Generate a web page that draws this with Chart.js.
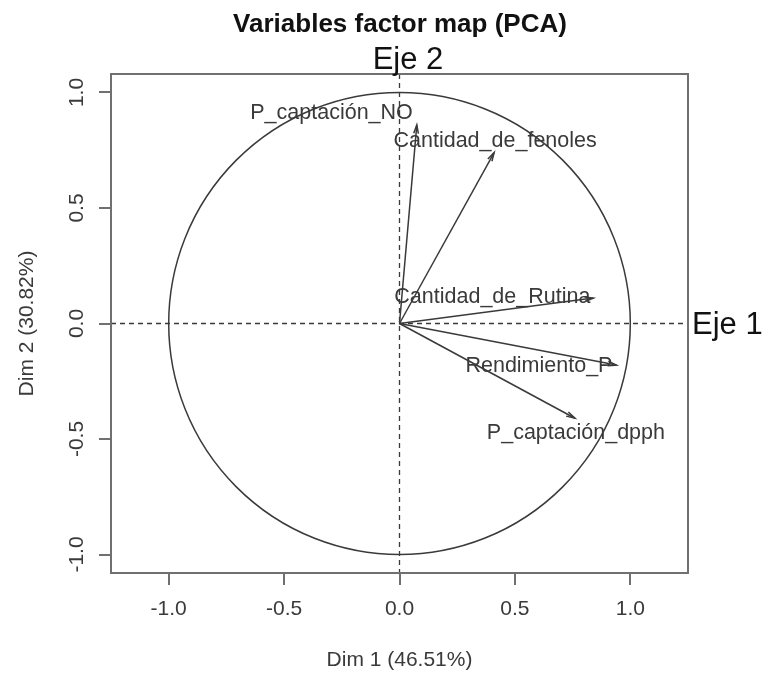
<!DOCTYPE html>
<html>
<head>
<meta charset="utf-8">
<script src="https://cdn.jsdelivr.net/npm/chart.js@4/dist/chart.umd.min.js"></script>
<style>
  html, body { margin: 0; padding: 0; background: #fff; }
  #wrap { width: 762px; height: 675px; }
</style>
</head>
<body>
<div id="wrap"><canvas id="pca" width="762" height="675"></canvas></div>
<script>
// variable coordinates on Dim 1 / Dim 2
const variables = ['P_captación_NO', 'Cantidad_de_fenoles', 'Cantidad_de_Rutina', 'Rendimiento_P', 'P_captación_dpph'];
const dim1 = [0.075, 0.41, 0.84, 0.94, 0.76];
const dim2 = [0.86, 0.74, 0.11, -0.18, -0.41];
const tickValues = [-1.0, -0.5, 0.0, 0.5, 1.0];

// where each label sits relative to its arrow tip (pixels)
const labelPlace = [
    { align: 'right', dx: -4, dy: -12 },
    { align: 'center', dx: 1, dy: -11 },
    { align: 'right', dx: -3, dy: -1 },
    { align: 'right', dx: -4, dy: 1 },
    { align: 'center', dx: 1, dy: 15 }
];

const FONT = '"Liberation Sans", Arial, sans-serif';
const INK = '#3a3a3a';
const FRAME = '#707070';

const datasets = variables.map((name, i) => ({
    label: name,
    data: [{ x: 0, y: 0 }, { x: dim1[i], y: dim2[i] }],
    showLine: true,
    borderColor: INK,
    borderWidth: 1.5,
    pointRadius: 0,
    fill: false
}));

const decor = {
    id: 'decor',
    beforeDatasetsDraw(chart) {
        const { ctx, chartArea: a, scales: { x, y } } = chart;
        const cx = x.getPixelForValue(0), cy = y.getPixelForValue(0);
        ctx.save();
        // correlation circle
        ctx.strokeStyle = INK;
        ctx.lineWidth = 1.5;
        ctx.beginPath();
        ctx.ellipse(cx, cy, x.getPixelForValue(1) - cx, cy - y.getPixelForValue(1), 0, 0, Math.PI * 2);
        ctx.stroke();
        // dashed axes
        ctx.setLineDash([5, 4]);
        ctx.lineWidth = 1.3;
        ctx.beginPath();
        ctx.moveTo(a.left, cy); ctx.lineTo(a.right, cy);
        ctx.moveTo(cx, a.top); ctx.lineTo(cx, a.bottom);
        ctx.stroke();
        ctx.restore();
    },
    afterDatasetsDraw(chart) {
        const { ctx, chartArea: a, scales: { x, y } } = chart;
        const cx = x.getPixelForValue(0), cy = y.getPixelForValue(0);
        ctx.save();
        // arrow heads
        ctx.strokeStyle = INK;
        ctx.lineWidth = 1.5;
        variables.forEach((name, i) => {
            const px = x.getPixelForValue(dim1[i]), py = y.getPixelForValue(dim2[i]);
            const ang = Math.atan2(py - cy, px - cx);
            const len = 9, spread = Math.PI / 12;
            ctx.beginPath();
            ctx.moveTo(px - len * Math.cos(ang - spread), py - len * Math.sin(ang - spread));
            ctx.lineTo(px, py);
            ctx.lineTo(px - len * Math.cos(ang + spread), py - len * Math.sin(ang + spread));
            ctx.stroke();
        });
        // labels
        ctx.fillStyle = INK;
        ctx.font = '21.5px ' + FONT;
        ctx.textBaseline = 'middle';
        variables.forEach((name, i) => {
            const p = labelPlace[i];
            ctx.textAlign = p.align;
            ctx.fillText(name, x.getPixelForValue(dim1[i]) + p.dx, y.getPixelForValue(dim2[i]) + p.dy);
        });
        // frame top/right
        ctx.strokeStyle = FRAME;
        ctx.lineWidth = 2;
        ctx.strokeRect(a.left, a.top, a.right - a.left, a.bottom - a.top);
        // titles
        ctx.fillStyle = '#111';
        ctx.textAlign = 'center';
        ctx.font = 'bold 26px ' + FONT;
        ctx.fillText('Variables factor map (PCA)', 400, 25);
        ctx.font = '31px ' + FONT;
        ctx.fillText('Eje 2', 408, 60);
        ctx.textAlign = 'left';
        ctx.fillText('Eje 1', 692, cy + 2);
        ctx.restore();
    }
};

const axisCommon = {
    type: 'linear',
    border: { display: true, color: FRAME, width: 2 },
    grid: { drawOnChartArea: false, drawTicks: true, tickLength: 12, color: FRAME, lineWidth: 2 },
    afterBuildTicks(scale) { scale.ticks = tickValues.map(v => ({ value: v })); }
};

new Chart(document.getElementById('pca'), {
    type: 'scatter',
    data: { datasets },
    options: {
        responsive: false,
        animation: false,
        layout: { padding: { top: 74, right: 74, left: 0, bottom: 0 } },
        plugins: { legend: { display: false }, tooltip: { enabled: false } },
        scales: {
            x: {
                ...axisCommon,
                position: 'bottom',
                min: -1.25, max: 1.25,
                afterFit(scale) { scale.height = 102; },
                ticks: {
                    color: INK, font: { family: FONT, size: 21 }, padding: 12,
                    maxRotation: 0, minRotation: 0,
                    callback: v => v.toFixed(1)
                },
                title: {
                    display: true, text: 'Dim 1 (46.51%)', color: INK,
                    font: { family: FONT, size: 21 }, padding: { top: 0, bottom: 2 }
                }
            },
            y: {
                ...axisCommon,
                position: 'left',
                min: -1.08, max: 1.08,
                afterFit(scale) { scale.width = 111; },
                ticks: {
                    color: INK, font: { family: FONT, size: 21 }, padding: 4,
                    minRotation: 90, maxRotation: 90, crossAlign: 'center',
                    callback: v => v.toFixed(1)
                },
                title: {
                    display: true, text: 'Dim 2 (30.82%)', color: INK,
                    font: { family: FONT, size: 21 }, padding: { top: 15, bottom: 0 }
                }
            }
        }
    },
    plugins: [decor]
});
</script>
</body>
</html>
